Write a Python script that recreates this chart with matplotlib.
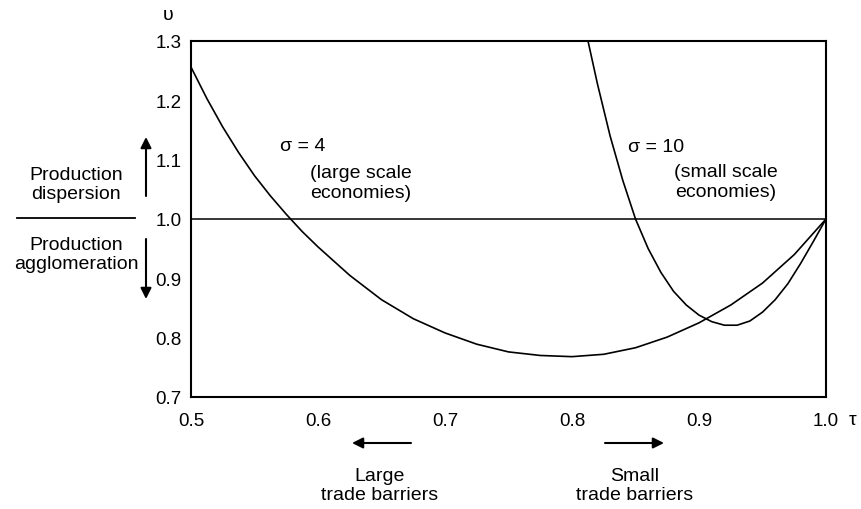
import matplotlib
matplotlib.use("Agg")
import matplotlib.pyplot as plt
from matplotlib.lines import Line2D

plt.rcParams['font.family'] = ['Liberation Sans', 'DejaVu Sans']

# ---- data ----
tau_s4 = [0.5000, 0.5125, 0.5250, 0.5375, 0.5500, 0.5625, 0.5750, 0.5875, 0.6000,
          0.625, 0.650, 0.675, 0.700, 0.725, 0.750, 0.775, 0.800, 0.825, 0.850,
          0.875, 0.900, 0.925, 0.950, 0.975, 1.000]
v_s4 = [1.256, 1.203, 1.155, 1.112, 1.073, 1.039, 1.008, 0.979, 0.953,
        0.905, 0.864, 0.832, 0.808, 0.789, 0.776, 0.770, 0.768, 0.772, 0.783,
        0.801, 0.825, 0.855, 0.892, 0.940, 1.000]

tau_s10 = [0.8126, 0.820, 0.830, 0.840, 0.850, 0.860, 0.870, 0.880, 0.890, 0.900,
           0.910, 0.920, 0.930, 0.940, 0.950, 0.960, 0.970, 0.980, 0.990, 1.000]
v_s10 = [1.300, 1.228, 1.140, 1.065, 1.000, 0.950, 0.910, 0.878, 0.855, 0.838,
         0.827, 0.821, 0.821, 0.828, 0.843, 0.864, 0.891, 0.925, 0.962, 1.000]

x_ticks = [0.5, 0.6, 0.7, 0.8, 0.9, 1.0]
x_ticklabels = ['0.5', '0.6', '0.7', '0.8', '0.9', '1.0']
y_ticks = [0.7, 0.8, 0.9, 1.0, 1.1, 1.2, 1.3]
y_ticklabels = ['0.7', '0.8', '0.9', '1.0', '1.1', '1.2', '1.3']

W, H = 861, 510
fig = plt.figure(figsize=(W / 100, H / 100), dpi=100)

def fx(px):
    return px / W

def fy(py):
    return 1 - py / H

ax = fig.add_axes([fx(191), fy(398), (826 - 191) / W, (398 - 42) / H])
ax.set_xlim(0.5, 1.0)
ax.set_ylim(0.7, 1.3)

ax.plot(tau_s4, v_s4, color='black', lw=1.2, solid_joinstyle='round')
ax.plot(tau_s10, v_s10, color='black', lw=1.2, solid_joinstyle='round')
ax.axhline(1.0, color='black', lw=1.1)

ax.set_xticks(x_ticks)
ax.set_xticklabels(x_ticklabels, fontsize=13.5)
ax.set_yticks(y_ticks)
ax.set_yticklabels(y_ticklabels, fontsize=13.5)
ax.tick_params(axis='both', length=0)
ax.tick_params(axis='y', pad=7)
ax.tick_params(axis='x', pad=11)
for s in ax.spines.values():
    s.set_linewidth(1.5)

# axis symbols
fig.text(fx(853), fy(421), 'τ', fontsize=14, ha='center', va='center')
fig.text(fx(168), fy(15), 'υ', fontsize=14, ha='center', va='center')

# curve labels
fig.text(fx(280), fy(147), 'σ = 4', fontsize=14, ha='left', va='center')
fig.text(fx(361), fy(183.5), '(large scale\neconomies)', fontsize=14,
         ha='center', va='center', multialignment='center', linespacing=1.2)
fig.text(fx(628), fy(148), 'σ = 10', fontsize=14, ha='left', va='center')
fig.text(fx(726), fy(182.5), '(small scale\neconomies)', fontsize=14,
         ha='center', va='center', multialignment='center', linespacing=1.2)

# left side annotation
fig.text(fx(76), fy(185), 'Production\ndispersion', fontsize=14,
         ha='center', va='center', multialignment='center', linespacing=1.2)
fig.text(fx(76), fy(255), 'Production\nagglomeration', fontsize=14,
         ha='center', va='center', multialignment='center', linespacing=1.2)
fig.add_artist(Line2D([fx(17), fx(135)], [fy(219), fy(219)], color='black', lw=1.3,
                      transform=fig.transFigure))

arrowprops = dict(arrowstyle='-|>', color='black', lw=1.5, mutation_scale=16,
                  shrinkA=0, shrinkB=0)
ax.annotate('', xy=(fx(146), fy(138)), xytext=(fx(146), fy(197)),
            xycoords='figure fraction', textcoords='figure fraction',
            arrowprops=arrowprops, annotation_clip=False)
ax.annotate('', xy=(fx(146), fy(300)), xytext=(fx(146), fy(240)),
            xycoords='figure fraction', textcoords='figure fraction',
            arrowprops=arrowprops, annotation_clip=False)

# bottom annotations
ax.annotate('', xy=(fx(352), fy(444)), xytext=(fx(411), fy(444)),
            xycoords='figure fraction', textcoords='figure fraction',
            arrowprops=arrowprops, annotation_clip=False)
ax.annotate('', xy=(fx(664), fy(444)), xytext=(fx(605), fy(444)),
            xycoords='figure fraction', textcoords='figure fraction',
            arrowprops=arrowprops, annotation_clip=False)
fig.text(fx(380), fy(486), 'Large\ntrade barriers', fontsize=14,
         ha='center', va='center', multialignment='center', linespacing=1.2)
fig.text(fx(635), fy(486), 'Small\ntrade barriers', fontsize=14,
         ha='center', va='center', multialignment='center', linespacing=1.2)

fig.savefig('out.png', dpi=100)
